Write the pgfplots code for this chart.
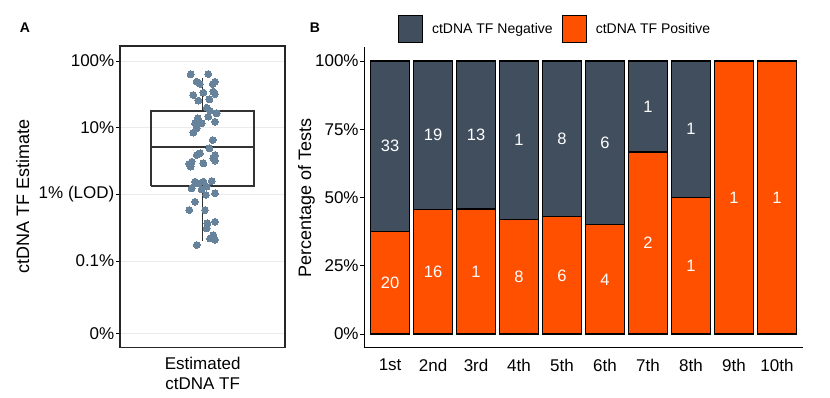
\documentclass[border=0pt]{standalone}
\usepackage{pgfplots}
\pgfplotsset{compat=1.18}
\usepackage{fontspec}
\setmainfont{Liberation Sans}
\definecolor{neg}{HTML}{404E5E}
\definecolor{pos}{HTML}{FF5000}
\definecolor{dotc}{HTML}{67839C}
\definecolor{boxc}{HTML}{333333}
\definecolor{gridc}{HTML}{EBEBEB}
\newcommand{\tickfont}{\fontsize{17}{20}\selectfont}
\newcommand{\labfont}{\fontsize{18}{21}\selectfont}
\begin{document}
\begin{tikzpicture}[x=1pt,y=1pt]
\useasboundingbox (0,0) rectangle (830,398);
% ---------------- Panel A ----------------
\begin{axis}[name=A, at={(120pt,50.5pt)}, anchor=south west, scale only axis,
  width=165pt, height=301.5pt,
  xmin=120, xmax=285, ymin=-2.295, ymax=2.225,
  ytick={2,1,0,-1,-2.085}, yticklabels={100\%,10\%,1\% (LOD),0.1\%,0\%},
  xtick={202.7}, xticklabels={{Estimated\\ctDNA TF}},
  xticklabel style={align=center, font=\tickfont, inner sep=1pt, yshift=-4pt},
  yticklabel style={font=\tickfont, inner sep=1.5pt},
  xtick style={draw=none}, ytick style={black, line width=0.8pt},
  tick align=outside, major tick length=4pt, ytick pos=left, xtick pos=bottom,
  ymajorgrids, grid style={gridc, line width=0.9pt},
  axis line style={black!85, line width=1.1pt},
  ylabel={ctDNA TF Estimate}, ylabel style={font=\labfont, at={(axis description cs:-0.59,0.5)}, anchor=center},
  /pgf/number format/assume math mode=true,
  clip=false,
]
\addplot[only marks, color=dotc, mark=*, mark size=3.4pt, mark options={solid, draw=dotc, fill=dotc, line width=0pt}] table {
x v
190.7 1.80
208.3 1.805
196.7 1.69
200.0 1.655
215.0 1.69
212.7 1.655
193.3 1.49
203.3 1.525
213.3 1.54
215.0 1.505
198.3 1.405
209.3 1.425
206.7 1.30
210.0 1.255
216.7 1.215
197.7 1.14
208.3 1.165
215.0 1.09
195.0 1.065
201.7 1.065
196.7 0.99
193.3 0.926
212.7 0.816
209.3 0.69
200.0 0.616
196.7 0.59
215.0 0.59
213.3 0.541
215.0 0.506
191.7 0.49
189.3 0.456
190.7 0.416
203.3 0.466
195.0 0.191
203.3 0.191
211.7 0.201
191.7 0.091
201.7 0.076
206.7 0.116
206.0 -0.009
215.0 0.016
195.0 -0.109
189.3 -0.234
205.0 -0.234
207.3 -0.434
215.0 -0.409
206.7 -0.509
213.3 -0.609
215.0 -0.683
196.7 -0.758
197.7 0.166
210.0 -0.66
};
% whiskers
\addplot[boxc, line width=1.3pt] coordinates {(202.7,1.25) (202.7,1.745)};
\addplot[boxc, line width=1.3pt] coordinates {(202.7,0.126) (202.7,-0.70)};
% box
\addplot[boxc, line width=1.1pt] coordinates {(151,0.126) (254,0.126) (254,1.25) (151,1.25) (151,0.126)};
% median
\addplot[boxc, line width=2.8pt] coordinates {(151,0.71) (254,0.71)};
\end{axis}
% ---------------- Panel B ----------------
\begin{axis}[name=B, at={(364.3pt,50.3pt)}, anchor=south west, scale only axis,
  width=438.4pt, height=300.3pt,
  xmin=0.4, xmax=10.6, ymin=-5, ymax=105,
  axis x line=bottom, axis y line=left, axis line style={-, black, line width=1.1pt},
  xtick={1,2,3,4,5,6,7,8,9,10},
  xticklabels={1st,2nd,3rd,4th,5th,6th,7th,8th,9th,10th},
  ytick={0,25,50,75,100}, yticklabels={0\%,25\%,50\%,75\%,100\%},
  xticklabel style={font=\tickfont, inner sep=1pt, yshift=-6pt},
  yticklabel style={font=\tickfont, inner sep=1.5pt},
  xtick style={draw=none}, ytick style={black, line width=0.8pt},
  tick align=outside, major tick length=4pt,
  ylabel={Percentage of Tests}, ylabel style={font=\labfont, at={(axis description cs:-0.132,0.5)}, anchor=center},
  /pgf/number format/assume math mode=true,
  legend style={at={(0.434,1.061)}, anchor=center, draw=none, fill=none,
    legend columns=2, font=\fontsize{14}{16}\selectfont,
    /tikz/every odd column/.append style={column sep=8pt},
    /tikz/every even column/.append style={column sep=8pt},
    nodes={inner sep=1pt}},
  clip=false,
]
\addplot[ybar, bar width=0.9, fill=neg, draw=black, line width=1.1pt,
  legend image code/.code={\draw[fill=neg, draw=black, line width=1.1pt] (0pt,-13.5pt) rectangle (24pt,13.5pt);}]
  coordinates {(1,100) (2,100) (3,100) (4,100) (5,100) (6,100) (7,100) (8,100)};
\addlegendentry{ctDNA TF Negative}
\addplot[ybar, bar width=0.9, fill=pos, draw=black, line width=1.1pt,
  legend image code/.code={\draw[fill=pos, draw=black, line width=1.1pt] (0pt,-13.5pt) rectangle (24pt,13.5pt);}]
  coordinates {(1,37.7) (2,45.7) (3,45.8) (4,42.1) (5,42.9) (6,40.0) (7,66.7) (8,50.0) (9,100) (10,100)};
\addlegendentry{ctDNA TF Positive}
\addplot[draw=none, mark=none, forget plot,
  nodes near coords, point meta=explicit symbolic,
  nodes near coords style={text=white, anchor=center, font=\fontsize{16.5}{18}\selectfont}]
  table[meta=lab] {
x y lab
1 68.85 33
1 18.85 20
2 72.85 19
2 22.85 16
3 72.9 13
3 22.9 1
4 71.05 1
4 21.05 8
5 71.45 8
5 21.45 6
6 70.0 6
6 20.0 4
7 83.35 1
7 33.35 2
8 75.0 1
8 25.0 1
9 50.0 1
10 50.0 1
};
\end{axis}
\node[font=\bfseries\fontsize{14}{16}\selectfont] at (25,370.5) {A};
\node[font=\bfseries\fontsize{14}{16}\selectfont] at (315,370.5) {B};
\end{tikzpicture}
\end{document}
